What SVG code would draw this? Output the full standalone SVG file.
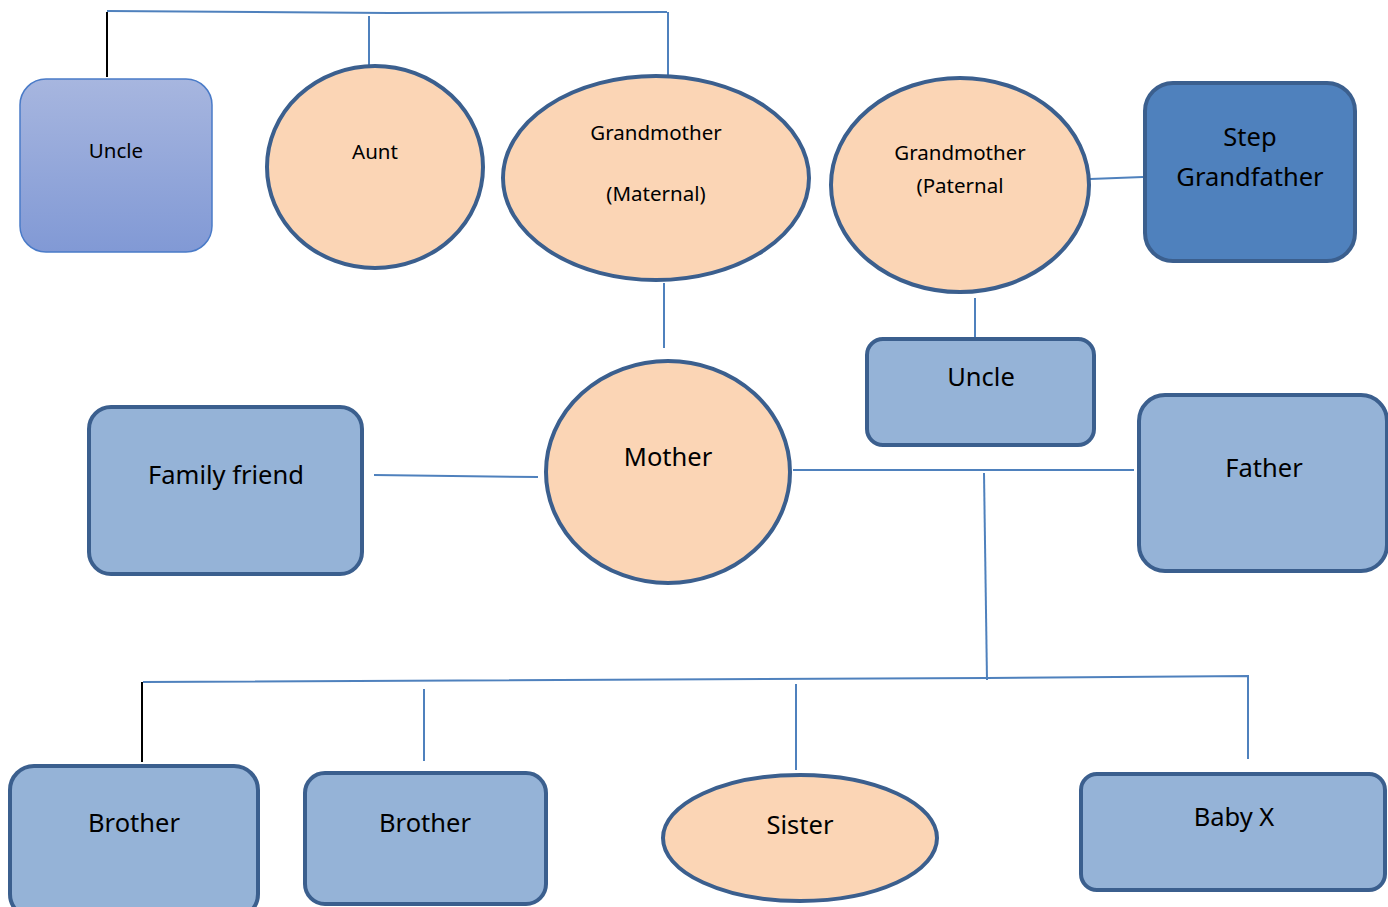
<svg xmlns="http://www.w3.org/2000/svg" width="1388" height="907" viewBox="0 0 1388 907">
<defs>
<linearGradient id="g1" x1="0" y1="0" x2="0" y2="1">
<stop offset="0" stop-color="#A7B6DF"/>
<stop offset="1" stop-color="#8199D5"/>
</linearGradient>
<style>
.pk{fill:#FBD5B5;stroke:#3B5F8E;stroke-width:4}
.bl{fill:#95B3D7;stroke:#3B5F8E;stroke-width:4}
.dk{fill:#4F81BD;stroke:#3B5F8E;stroke-width:4}
.c{fill:none;stroke:#4F81BD;stroke-width:2}
.k{fill:none;stroke:#000;stroke-width:2}
text{font-family:"Noto Sans","Open Sans",sans-serif;fill:#000;text-anchor:middle;dominant-baseline:central}
.s{font-size:20.5px}
.b{font-size:25.5px}
</style>
</defs>
<rect width="1388" height="907" fill="#fff"/>
<g id="connectors">
<polyline class="c" points="107,11 390,13 667,12"/>
<line class="k" x1="107" y1="12" x2="107" y2="77"/>
<line class="c" x1="369" y1="16" x2="369" y2="66"/>
<line class="c" x1="668" y1="12" x2="668" y2="75"/>
<line class="c" x1="1090" y1="179" x2="1143" y2="177"/>
<line class="c" x1="664" y1="283" x2="664" y2="348"/>
<line class="c" x1="975" y1="298" x2="975" y2="338"/>
<line class="c" x1="374" y1="475" x2="538" y2="477"/>
<line class="c" x1="793" y1="470" x2="1134" y2="470"/>
<line class="c" x1="984" y1="473" x2="987" y2="680"/>
<polyline class="c" points="143,682 987,678 1248,676 1248,759"/>
<line class="k" x1="142" y1="682" x2="142" y2="762"/>
<line class="c" x1="424" y1="689" x2="424" y2="761"/>
<line class="c" x1="796" y1="684" x2="796" y2="770"/>
</g>
<g id="uncle-left">
<rect x="20" y="79" width="192" height="173" rx="26" fill="url(#g1)" stroke="#4A7BC8" stroke-width="1.5"/>
<text class="s" x="116" y="150">Uncle</text>
</g>
<g id="aunt">
<ellipse class="pk" cx="375" cy="167" rx="108" ry="101"/>
<text class="s" x="375" y="151">Aunt</text>
</g>
<g id="grandmother-maternal">
<ellipse class="pk" cx="656" cy="178" rx="153" ry="102"/>
<text class="s" x="656" y="132">Grandmother</text>
<text class="s" x="656" y="193">(Maternal)</text>
</g>
<g id="grandmother-paternal">
<ellipse class="pk" cx="960" cy="185" rx="129" ry="107"/>
<text class="s" x="960" y="152">Grandmother</text>
<text class="s" x="960" y="185">(Paternal</text>
</g>
<g id="step-grandfather">
<rect class="dk" x="1145" y="83" width="210" height="178" rx="28"/>
<text class="b" x="1250" y="136">Step</text>
<text class="b" x="1250" y="176">Grandfather</text>
</g>
<g id="uncle-right">
<rect class="bl" x="867" y="339" width="227" height="106" rx="16"/>
<text class="b" x="981" y="376">Uncle</text>
</g>
<g id="mother">
<ellipse class="pk" cx="668" cy="472" rx="122" ry="111"/>
<text class="b" x="668" y="456">Mother</text>
</g>
<g id="family-friend">
<rect class="bl" x="89" y="407" width="273" height="167" rx="22"/>
<text class="b" x="226" y="474">Family friend</text>
</g>
<g id="father">
<rect class="bl" x="1139" y="395" width="248" height="176" rx="26"/>
<text class="b" x="1264" y="467">Father</text>
</g>
<g id="brother-1">
<rect class="bl" x="10" y="766" width="248" height="152" rx="24"/>
<text class="b" x="134" y="822">Brother</text>
</g>
<g id="brother-2">
<rect class="bl" x="305" y="773" width="241" height="131" rx="20"/>
<text class="b" x="425" y="822">Brother</text>
</g>
<g id="sister">
<ellipse class="pk" cx="800" cy="838" rx="137" ry="63"/>
<text class="b" x="800" y="824">Sister</text>
</g>
<g id="baby-x">
<rect class="bl" x="1081" y="774" width="304" height="116" rx="16"/>
<text class="b" x="1234" y="816">Baby X</text>
</g>
</svg>
